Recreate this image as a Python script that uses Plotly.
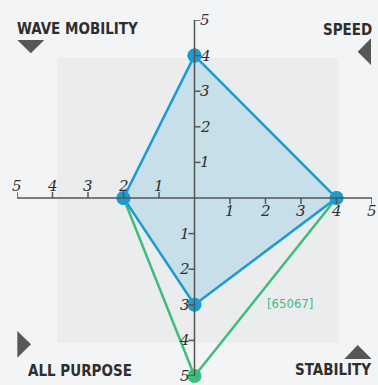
import plotly.graph_objects as go

# Data
x_ticks = [-5, -4, -3, -2, -1, 1, 2, 3, 4, 5]
y_ticks = [-5, -4, -3, -2, -1, 1, 2, 3, 4, 5]

blue_x = [0, 4, 0, -2]
blue_y = [4, 0, -3, 0]

green_x = [-2, 0, 4]
green_y = [0, -5, 0]
green_label = "[65067]"

corner_labels = ["WAVE MOBILITY", "SPEED", "ALL PURPOSE", "STABILITY"]

# Styles
BG = "#f3f4f6"
SQUARE = "#ebecee"
BLUE = "#1b9bd1"
BLUE_FILL = "#c6dfe9"
GREEN = "#3dbd7c"
AXIS = "#555555"
TEXT = "#2e2e2e"
TRI = "#575757"
W, H = 378, 385
ML, MR, MT, MB = 17, 6, 20, 9
PW, PH = W - ML - MR, H - MT - MB
LABEL_FONT = "DejaVu Sans Condensed, sans-serif"
TICK_FONT = dict(family="DejaVu Serif, serif", size=15, color=TEXT, style="italic")


def px(x):
    return (x - ML) / PW


def py(y):
    return 1 - (y - MT) / PH


fig = go.Figure()

fig.add_trace(go.Scatter(
    x=green_x, y=green_y,
    mode="lines+markers",
    line=dict(color=GREEN, width=2.5),
    marker=dict(color=GREEN, size=14),
    cliponaxis=False, showlegend=False, hoverinfo="skip"
))

fig.add_trace(go.Scatter(
    x=blue_x + blue_x[:1], y=blue_y + blue_y[:1],
    mode="lines+markers",
    fill="toself", fillcolor=BLUE_FILL,
    line=dict(color=BLUE, width=2.5),
    marker=dict(color=BLUE, size=14),
    cliponaxis=False, showlegend=False, hoverinfo="skip"
))

shapes = []
annotations = []

# gray square behind the plot
shapes.append(dict(type="rect", xref="x", yref="y", x0=-3.87, x1=4.04, y0=-4.07, y1=3.93,
                   fillcolor=SQUARE, line=dict(width=0), layer="below"))

# axis lines
shapes.append(dict(type="line", xref="x", yref="y", x0=min(x_ticks), x1=max(x_ticks), y0=0, y1=0,
                   line=dict(color=AXIS, width=1.5)))
shapes.append(dict(type="line", xref="x", yref="y", x0=0, x1=0, y0=min(y_ticks), y1=max(y_ticks),
                   line=dict(color=AXIS, width=1.5)))

for t in x_ticks:
    up = t < 0
    shapes.append(dict(type="line", xref="x", yref="y", x0=t, x1=t,
                       ysizemode="pixel", yanchor=0, y0=0, y1=6 if up else -6,
                       line=dict(color=AXIS, width=1.5)))
    annotations.append(dict(x=t, y=0, xref="x", yref="y", text=str(abs(t)), showarrow=False,
                            yanchor="bottom" if up else "top", yshift=1 if up else -2,
                            font=TICK_FONT))

for t in y_ticks:
    right = t > 0
    shapes.append(dict(type="line", xref="x", yref="y", y0=t, y1=t,
                       xsizemode="pixel", xanchor=0, x0=0, x1=6 if right else -6,
                       line=dict(color=AXIS, width=1.5)))
    annotations.append(dict(x=0, y=t, xref="x", yref="y", text=str(abs(t)), showarrow=False,
                            xanchor="left" if right else "right", xshift=3 if right else -3,
                            font=TICK_FONT))

# green series label
annotations.append(dict(x=2.68, y=-2.95, xref="x", yref="y", text=green_label, showarrow=False,
                        font=dict(family=LABEL_FONT, size=13, color=GREEN)))

# corner labels and triangles (pixel positions)
corner_pos = [(17, 29, "left"), (372, 30, "right"), (28, 371, "left"), (371, 370, "right")]
for lab, (x, y, anc) in zip(corner_labels, corner_pos):
    annotations.append(dict(x=px(x), y=py(y), xref="paper", yref="paper", text=lab, showarrow=False,
                            xanchor=anc, yanchor="middle", xshift=-2 if anc == "left" else 2,
                            font=dict(family=LABEL_FONT, size=15, color=TEXT, weight="bold")))

triangles = [
    [(17.3, 40), (44.3, 40), (30.8, 53.3)],
    [(371, 38.3), (371, 65), (357.7, 51.7)],
    [(17.3, 331), (17.3, 357.7), (31, 344.3)],
    [(344.3, 359), (371.7, 359), (357.7, 345)],
]
for tri in triangles:
    path = "M" + " L".join(f"{px(a):.4f},{py(b):.4f}" for a, b in tri) + " Z"
    shapes.append(dict(type="path", xref="paper", yref="paper", path=path,
                       fillcolor=TRI, line=dict(width=0)))

fig.update_layout(
    width=W, height=H,
    margin=dict(l=ML, r=MR, t=MT, b=MB),
    paper_bgcolor=BG, plot_bgcolor=BG,
    shapes=shapes, annotations=annotations,
    xaxis=dict(range=[-5, 5], visible=False, fixedrange=True),
    yaxis=dict(range=[-5, 5], visible=False, fixedrange=True),
    showlegend=False,
)

fig.write_html("out.html", config={"displayModeBar": False},
               post_script="document.body.style.margin='0';document.body.style.overflow='hidden';")
